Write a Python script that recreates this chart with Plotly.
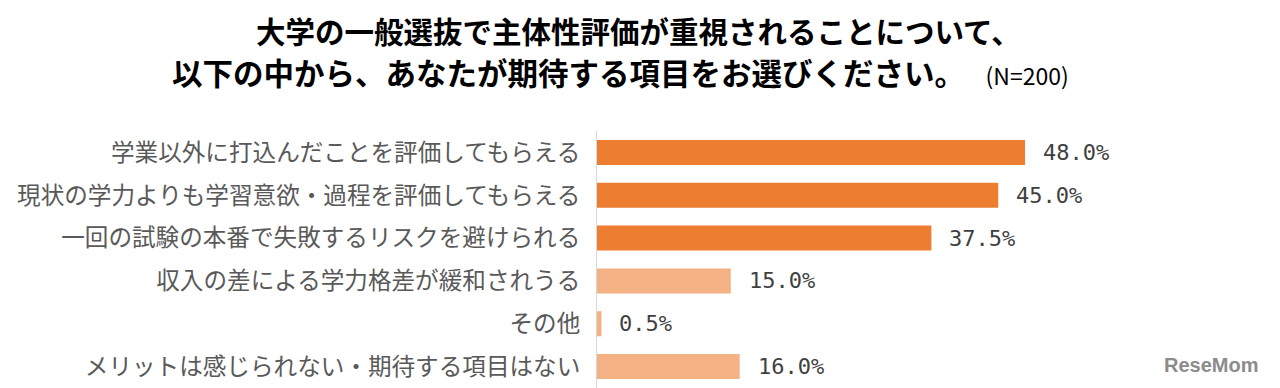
import plotly.graph_objects as go

categories = [
    "学業以外に打込んだことを評価してもらえる",
    "現状の学力よりも学習意欲・過程を評価してもらえる",
    "一回の試験の本番で失敗するリスクを避けられる",
    "収入の差による学力格差が緩和されうる",
    "その他",
    "メリットは感じられない・期待する項目はない",
]
values = [48.0, 45.0, 37.5, 15.0, 0.5, 16.0]
bar_colors = ["#ED7D31", "#ED7D31", "#ED7D31", "#F4B183", "#F4B183", "#F4B183"]
value_labels = [f"{v:.1f}%" for v in values]

title_line1 = "大学の一般選抜で主体性評価が重視されることについて、"
title_line2 = "以下の中から、あなたが期待する項目をお選びください。"
title_n = "(N=200)"

# page is drawn with an 8px body offset; layout numbers below compensate for it
OFF = 8
W, H = 1280, 388
L, T, R, B = 597 - OFF, 131 - OFF, W - (1132 - OFF), OFF

fig = go.Figure()
fig.add_trace(go.Bar(
    x=values, y=categories, orientation="h",
    marker=dict(color=bar_colors, line=dict(width=0)),
    hoverinfo="skip",
))

fig.update_layout(
    width=W, height=H,
    margin=dict(l=L, r=R, t=T, b=B, autoexpand=False),
    paper_bgcolor="white", plot_bgcolor="white",
    showlegend=False,
    bargap=0.416,
    xaxis=dict(range=[0, 60], visible=False, fixedrange=True),
    yaxis=dict(
        autorange="reversed", showline=True, linecolor="#D9D9D9", linewidth=1,
        ticks="", showgrid=False, ticklabelstandoff=11, automargin=False,
        tickfont=dict(family="Noto Sans CJK JP", size=23.6, color="#595959"),
    ),
    font=dict(family="Noto Sans CJK JP"),
)

for c, v, t in zip(categories, values, value_labels):
    fig.add_annotation(
        x=v, y=c, xref="x", yref="y", text=t, showarrow=False,
        xanchor="left", yanchor="middle", xshift=16,
        font=dict(family="DejaVu Sans Mono", size=22, color="#404040"),
    )

plot_w = W - L - R
plot_h = H - T - B


def px_to_paper(sx, sy):
    fx, fy = sx - OFF, sy - OFF
    return (fx - L) / plot_w, (H - B - fy) / plot_h


x1, y1 = px_to_paper(638, 30)
fig.add_annotation(
    x=x1, y=y1, xref="paper", yref="paper", text=f"<b>{title_line1}</b>",
    showarrow=False, xanchor="center", yanchor="middle",
    font=dict(family="Noto Sans CJK JP", size=29.5, color="#000000"),
)
x2, y2 = px_to_paper(620, 72)
fig.add_annotation(
    x=x2, y=y2, xref="paper", yref="paper",
    text=f"<b>{title_line2}</b>   <span style='font-size:23px'>{title_n}</span>",
    showarrow=False, xanchor="center", yanchor="middle",
    font=dict(family="Noto Sans CJK JP", size=30.5, color="#000000"),
)
x3, y3 = px_to_paper(1211, 365)
fig.add_annotation(
    x=x3, y=y3, xref="paper", yref="paper",
    text="<b>ReseMom</b>", showarrow=False, xanchor="center", yanchor="middle",
    font=dict(family="Liberation Sans", size=20, color="#8C8C8C"),
)

fig.write_html("out.html")
